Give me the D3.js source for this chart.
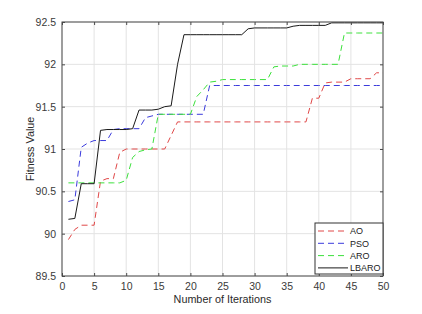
<!DOCTYPE html>
<html>
<head>
<meta charset="utf-8">
<script src="https://cdn.jsdelivr.net/npm/d3@7"></script>
<style>
  html, body { margin: 0; padding: 0; background: #fff; }
  svg { display: block; }
  text { font-family: "Liberation Sans", Arial, Helvetica, sans-serif; }
</style>
</head>
<body>
<svg id="chart" width="422" height="314"></svg>
<script>
const iterations = d3.range(1, 51);
const seriesNames = ["AO", "PSO", "ARO", "LBARO"];
const xTicks = [0, 5, 10, 15, 20, 25, 30, 35, 40, 45, 50];
const yTicks = [89.5, 90, 90.5, 91, 91.5, 92, 92.5];
const yTickLabels = ["89.5", "90", "90.5", "91", "91.5", "92", "92.5"];

const AO = [89.93, 90.05, 90.1, 90.1, 90.1, 90.62, 90.65, 90.65, 90.96, 91.0,
            91.0, 91.0, 91.0, 91.0, 91.0, 91.0, 91.16, 91.32, 91.32, 91.32,
            91.32, 91.32, 91.32, 91.32, 91.32, 91.32, 91.32, 91.32, 91.32, 91.32,
            91.32, 91.32, 91.32, 91.32, 91.32, 91.32, 91.32, 91.32, 91.6, 91.6,
            91.78, 91.79, 91.79, 91.79, 91.83, 91.83, 91.83, 91.83, 91.9, 91.9];
const PSO = [90.38, 90.4, 91.02, 91.07, 91.1, 91.1, 91.1, 91.23, 91.24, 91.24,
             91.24, 91.24, 91.37, 91.39, 91.41, 91.41, 91.41, 91.41, 91.41, 91.41,
             91.41, 91.41, 91.75, 91.75, 91.75, 91.75, 91.75, 91.75, 91.75, 91.75,
             91.75, 91.75, 91.75, 91.75, 91.75, 91.75, 91.75, 91.75, 91.75, 91.75,
             91.75, 91.75, 91.75, 91.75, 91.75, 91.75, 91.75, 91.75, 91.75, 91.75];
const ARO = [90.6, 90.6, 90.6, 90.6, 90.6, 90.6, 90.6, 90.6, 90.6, 90.63,
             90.9, 90.97, 90.99, 91.0, 91.41, 91.41, 91.41, 91.41, 91.41, 91.41,
             91.62, 91.7, 91.79, 91.8, 91.82, 91.82, 91.82, 91.82, 91.82, 91.82,
             91.82, 91.82, 91.97, 91.98, 91.98, 91.98, 92.0, 92.0, 92.0, 92.0,
             92.0, 92.0, 92.0, 92.37, 92.37, 92.37, 92.37, 92.37, 92.37, 92.37];
const LBARO = [90.17, 90.18, 90.59, 90.59, 90.59, 91.22, 91.23, 91.23, 91.23, 91.23,
               91.24, 91.46, 91.46, 91.46, 91.47, 91.5, 91.51, 92.0, 92.35, 92.35,
               92.35, 92.35, 92.35, 92.35, 92.35, 92.35, 92.35, 92.35, 92.42, 92.43,
               92.43, 92.43, 92.43, 92.43, 92.43, 92.45, 92.46, 92.46, 92.46, 92.46,
               92.46, 92.49, 92.49, 92.49, 92.49, 92.49, 92.49, 92.49, 92.49, 92.49];

const seriesValues = [AO, PSO, ARO, LBARO];
const seriesColors = ["#e04848", "#3b3bdc", "#3ce03c", "#1a1a1a"];
const seriesDash = ["6,4", "6,4", "6,4", null];

const L = 62, R = 383, T = 22, B = 276;
const svg = d3.select("#chart");
const x = d3.scaleLinear().domain([0, 50]).range([L, R]);
const y = d3.scaleLinear().domain([89.5, 92.5]).range([B, T]);

// grid
const grid = svg.append("g");
grid.selectAll("line.vx").data(xTicks).join("line")
  .attr("x1", d => x(d)).attr("x2", d => x(d)).attr("y1", T).attr("y2", B)
  .attr("stroke", "#e3e3e3").attr("stroke-width", 1);
grid.selectAll("line.hy").data(yTicks).join("line")
  .attr("y1", d => y(d)).attr("y2", d => y(d)).attr("x1", L).attr("x2", R)
  .attr("stroke", "#e3e3e3").attr("stroke-width", 1);

// lines
const line = d3.line().x((d, i) => x(iterations[i])).y(d => y(d));
seriesValues.forEach((vals, k) => {
  svg.append("path").datum(vals)
    .attr("d", line)
    .attr("fill", "none")
    .attr("stroke", seriesColors[k])
    .attr("stroke-width", 1)
    .attr("stroke-dasharray", seriesDash[k]);
});

// axes
const axisColor = "#4a4a4a";
function styleAxis(g, labels) {
  g.select(".domain").remove();
  g.selectAll(".tick line").attr("stroke", axisColor);
  g.selectAll(".tick text").attr("fill", "#3a3a3a").style("font-size", "10.5px")
   .style("font-family", "'Liberation Sans', Arial, sans-serif");
  if (!labels) g.selectAll(".tick text").remove();
}
svg.append("g").attr("transform", `translate(0,${B})`)
  .call(d3.axisBottom(x).tickValues(xTicks).tickSize(-3).tickPadding(7).tickFormat(d3.format("d")))
  .call(g => styleAxis(g, true));
svg.append("g").attr("transform", `translate(0,${T})`)
  .call(d3.axisTop(x).tickValues(xTicks).tickSize(-3))
  .call(g => styleAxis(g, false));
svg.append("g").attr("transform", `translate(${L},0)`)
  .call(d3.axisLeft(y).tickValues(yTicks).tickSize(-3).tickPadding(6).tickFormat((d, i) => yTickLabels[i]))
  .call(g => styleAxis(g, true));
svg.append("g").attr("transform", `translate(${R},0)`)
  .call(d3.axisRight(y).tickValues(yTicks).tickSize(-3))
  .call(g => styleAxis(g, false));

svg.append("rect").attr("x", L).attr("y", T).attr("width", R - L).attr("height", B - T)
  .attr("fill", "none").attr("stroke", axisColor).attr("stroke-width", 1);

// titles
svg.append("text").attr("x", (L + R) / 2).attr("y", 303).attr("text-anchor", "middle")
  .attr("fill", "#2a2a2a").style("font-size", "10.8px").text("Number of Iterations");
svg.append("text").attr("transform", `translate(34,${(T + B) / 2}) rotate(-90)`)
  .attr("text-anchor", "middle").attr("fill", "#2a2a2a").style("font-size", "10.8px")
  .text("Fitness Value");

// legend
const lg = svg.append("g");
lg.append("rect").attr("x", 315).attr("y", 223).attr("width", 68).attr("height", 51)
  .attr("fill", "#fff").attr("stroke", "#333").attr("stroke-width", 1);
seriesNames.forEach((name, k) => {
  const yy = 231 + k * 12.3;
  lg.append("line").attr("x1", 318).attr("x2", 348).attr("y1", yy).attr("y2", yy)
    .attr("stroke", seriesColors[k]).attr("stroke-width", 1)
    .attr("stroke-dasharray", seriesDash[k]);
  lg.append("text").attr("x", 350).attr("y", yy + 3.2).attr("fill", "#222")
    .style("font-size", "9px").text(name);
});
</script>
</body>
</html>
